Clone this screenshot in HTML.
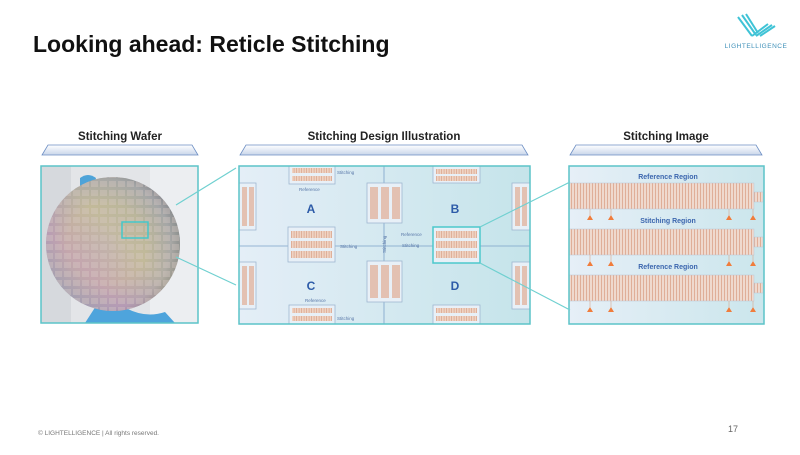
<!DOCTYPE html>
<html><head><meta charset="utf-8"><style>
html,body{margin:0;padding:0;background:#fff;}
body{width:800px;height:450px;overflow:hidden;font-family:"Liberation Sans",sans-serif;}
</style></head><body>
<svg width="800" height="450" viewBox="0 0 800 450" xmlns="http://www.w3.org/2000/svg" font-family="Liberation Sans, sans-serif">
<defs>
<linearGradient id="hdr" x1="0" y1="0" x2="0" y2="1"><stop offset="0" stop-color="#fff"/><stop offset="1" stop-color="#c9d6ea"/></linearGradient>
<linearGradient id="mid" x1="0" y1="0" x2="1" y2="0"><stop offset="0" stop-color="#e4eef7"/><stop offset="1" stop-color="#c5e4ea"/></linearGradient>
<linearGradient id="rgt" x1="0" y1="0" x2="1" y2="0"><stop offset="0" stop-color="#e6eff7"/><stop offset="1" stop-color="#cbe6ec"/></linearGradient>
<pattern id="vs" width="3" height="10" patternUnits="userSpaceOnUse"><rect width="3" height="10" fill="#efd9ce"/><rect x="1" width="1" height="10" fill="#dfae98"/></pattern>
<pattern id="vs2" width="2.5" height="10" patternUnits="userSpaceOnUse"><rect width="2.5" height="10" fill="#efd3c3"/><rect x="1.2" width="0.8" height="10" fill="#dba890"/></pattern>
<radialGradient id="waf" cx="0.45" cy="0.5" r="0.6"><stop offset="0" stop-color="#b3a6a8"/><stop offset="0.5" stop-color="#b5a895"/><stop offset="0.8" stop-color="#9a93a6"/><stop offset="1" stop-color="#5f5c68"/></radialGradient>
<pattern id="die" width="9" height="9" patternUnits="userSpaceOnUse"><rect x="1" y="1" width="7" height="6" fill="#d8ccc4" opacity="0.35"/></pattern>
<linearGradient id="rain" x1="0" y1="1" x2="1" y2="0"><stop offset="0" stop-color="#8ab7b0" stop-opacity="0.5"/><stop offset="0.3" stop-color="#d6a3c9" stop-opacity="0.45"/><stop offset="0.55" stop-color="#d8d5a0" stop-opacity="0.4"/><stop offset="0.8" stop-color="#b5c8a8" stop-opacity="0.35"/><stop offset="1" stop-color="#a79fb4" stop-opacity="0.3"/></linearGradient>
</defs>

<text x="33" y="52" font-size="23" font-weight="bold" fill="#111">Looking ahead: Reticle Stitching</text>

<g stroke="#3fc3d6" stroke-width="2" fill="none">
<path d="M738 17 L752 36"/><path d="M742 15 L756 35"/><path d="M746 14 L758 33"/>
<path d="M752 36 L768 24"/><path d="M756 36 L772 25"/><path d="M760 36 L775 26"/>
</g>
<text x="756" y="48" font-size="6.5" fill="#3d8fb8" text-anchor="middle" letter-spacing="0.5">LIGHTELLIGENCE</text>

<g font-size="11.5" font-weight="bold" fill="#222" text-anchor="middle">
<text x="120" y="140">Stitching Wafer</text>
<text x="384" y="140">Stitching Design Illustration</text>
<text x="666" y="140">Stitching Image</text>
</g>
<g fill="url(#hdr)" stroke="#6c8ec4" stroke-width="0.8">
<path d="M48 145 L192 145 L198 155 L42 155 Z"/>
<path d="M246 145 L522 145 L528 155 L240 155 Z"/>
<path d="M576 145 L756 145 L762 155 L570 155 Z"/>
</g>

<rect x="41" y="166" width="157" height="157" fill="#e3e5e8"/>
<rect x="150" y="166" width="48" height="157" fill="#eceef1"/>
<rect x="41" y="166" width="30" height="157" fill="#d6d9dd"/>
<path d="M80 178 q8 -6 16 0 l-2 8 -14 0z" fill="#4da3d8"/>
<path d="M105 292 q30 30 60 20 l10 11 -90 0z" fill="#4ea4dc"/>
<circle cx="113" cy="244" r="67" fill="url(#waf)"/>
<circle cx="113" cy="244" r="67" fill="url(#rain)"/>
<circle cx="113" cy="244" r="67" fill="url(#die)"/>
<rect x="122" y="222" width="26" height="16" fill="none" stroke="#44c7c9" stroke-width="1.5"/>
<rect x="41" y="166" width="157" height="157" fill="none" stroke="#5cc4c8" stroke-width="1.5"/>

<rect x="239" y="166" width="291" height="158" fill="url(#mid)"/>
<g stroke="#7ba2c9" stroke-width="0.8">
<line x1="239" y1="246" x2="530" y2="246"/><line x1="384" y1="166" x2="384" y2="324"/>
</g>
<g fill="#e8f0f7" stroke="#9fb7d0" stroke-width="0.8">
<rect x="289" y="166" width="46" height="18"/><rect x="433" y="166" width="47" height="17"/>
<rect x="239" y="183" width="17" height="47"/><rect x="239" y="262" width="17" height="47"/>
<rect x="512" y="183" width="18" height="47"/><rect x="512" y="262" width="18" height="47"/>
<rect x="367" y="183" width="35" height="40"/><rect x="367" y="261" width="35" height="41"/>
<rect x="288" y="227" width="47" height="35"/><rect x="433" y="227" width="47" height="36"/>
<rect x="289" y="305" width="46" height="19"/><rect x="433" y="305" width="47" height="19"/>
</g>
<g fill="url(#vs2)">
<rect x="292" y="168" width="40" height="5"/><rect x="292" y="176" width="40" height="5"/>
<rect x="436" y="169" width="41" height="5"/><rect x="436" y="176" width="41" height="5"/>
<rect x="291" y="231" width="41" height="7"/><rect x="291" y="241" width="41" height="7"/><rect x="291" y="251" width="41" height="7"/>
<rect x="436" y="231" width="41" height="7"/><rect x="436" y="241" width="41" height="7"/><rect x="436" y="251" width="41" height="7"/>
<rect x="292" y="308" width="40" height="5"/><rect x="292" y="316" width="40" height="5"/>
<rect x="436" y="308" width="41" height="5"/><rect x="436" y="316" width="41" height="5"/>
</g>
<g fill="#e2b6a2" opacity="0.8">
<rect x="370" y="187" width="8" height="32"/><rect x="381" y="187" width="8" height="32"/><rect x="392" y="187" width="8" height="32"/>
<rect x="370" y="265" width="8" height="33"/><rect x="381" y="265" width="8" height="33"/><rect x="392" y="265" width="8" height="33"/>
<rect x="242" y="187" width="5" height="39"/><rect x="249" y="187" width="5" height="39"/>
<rect x="242" y="266" width="5" height="39"/><rect x="249" y="266" width="5" height="39"/>
<rect x="515" y="187" width="5" height="39"/><rect x="522" y="187" width="5" height="39"/>
<rect x="515" y="266" width="5" height="39"/><rect x="522" y="266" width="5" height="39"/>
</g>
<rect x="433" y="227" width="47" height="36" fill="none" stroke="#4cc8cc" stroke-width="1.5"/>
<g font-size="12" font-weight="bold" fill="#2d5ba8" text-anchor="middle">
<text x="311" y="213">A</text><text x="455" y="213">B</text><text x="311" y="290">C</text><text x="455" y="290">D</text>
</g>
<g font-size="4.5" fill="#5877a8">
<text x="337" y="174">Stitching</text><text x="299" y="191">Reference</text>
<text x="340" y="248">Stitching</text><text x="401" y="236">Reference</text><text x="402" y="247">Stitching</text>
<text x="305" y="302">Reference</text><text x="337" y="320">Stitching</text>
<text transform="translate(386,253) rotate(-90)">Stitching</text>
</g>
<rect x="239" y="166" width="291" height="158" fill="none" stroke="#5cc4c8" stroke-width="1.5"/>

<rect x="569" y="166" width="195" height="158" fill="url(#rgt)"/>
<g fill="url(#vs)" stroke="#b9c7d6" stroke-width="0.5">
<rect x="569" y="183" width="185" height="26"/><rect x="569" y="229" width="185" height="26"/><rect x="569" y="275" width="185" height="26"/>
<rect x="754" y="192" width="9" height="10"/><rect x="754" y="237" width="9" height="10"/><rect x="754" y="283" width="9" height="10"/>
</g>
<g stroke="#d9a58a" stroke-width="0.6">
<line x1="590" y1="209" x2="590" y2="215"/><line x1="611" y1="209" x2="611" y2="215"/><line x1="729" y1="209" x2="729" y2="215"/><line x1="753" y1="209" x2="753" y2="215"/>
<line x1="590" y1="255" x2="590" y2="261"/><line x1="611" y1="255" x2="611" y2="261"/><line x1="729" y1="255" x2="729" y2="261"/><line x1="753" y1="255" x2="753" y2="261"/>
<line x1="590" y1="301" x2="590" y2="307"/><line x1="611" y1="301" x2="611" y2="307"/><line x1="729" y1="301" x2="729" y2="307"/><line x1="753" y1="301" x2="753" y2="307"/>
</g>
<g fill="#f07d3c">
<path d="M590 215 l-3 5 6 0z M611 215 l-3 5 6 0z M729 215 l-3 5 6 0z M753 215 l-3 5 6 0z"/>
<path d="M590 261 l-3 5 6 0z M611 261 l-3 5 6 0z M729 261 l-3 5 6 0z M753 261 l-3 5 6 0z"/>
<path d="M590 307 l-3 5 6 0z M611 307 l-3 5 6 0z M729 307 l-3 5 6 0z M753 307 l-3 5 6 0z"/>
</g>
<g font-size="7" font-weight="bold" fill="#3b66ae" text-anchor="middle">
<text x="668" y="179">Reference Region</text><text x="668" y="223">Stitching Region</text><text x="668" y="269">Reference Region</text>
</g>
<rect x="569" y="166" width="195" height="158" fill="none" stroke="#5cc4c8" stroke-width="1.5"/>

<g stroke="#6fd0d0" stroke-width="1.2">
<line x1="176" y1="205" x2="236" y2="168"/><line x1="176" y1="257" x2="236" y2="285"/>
<line x1="480" y1="227" x2="570" y2="182"/><line x1="480" y1="263" x2="570" y2="310"/>
</g>

<text x="38" y="435" font-size="6.5" fill="#777">© LIGHTELLIGENCE  |  All rights reserved.</text>
<text x="728" y="432" font-size="9" fill="#666">17</text>
</svg>
</body></html>
